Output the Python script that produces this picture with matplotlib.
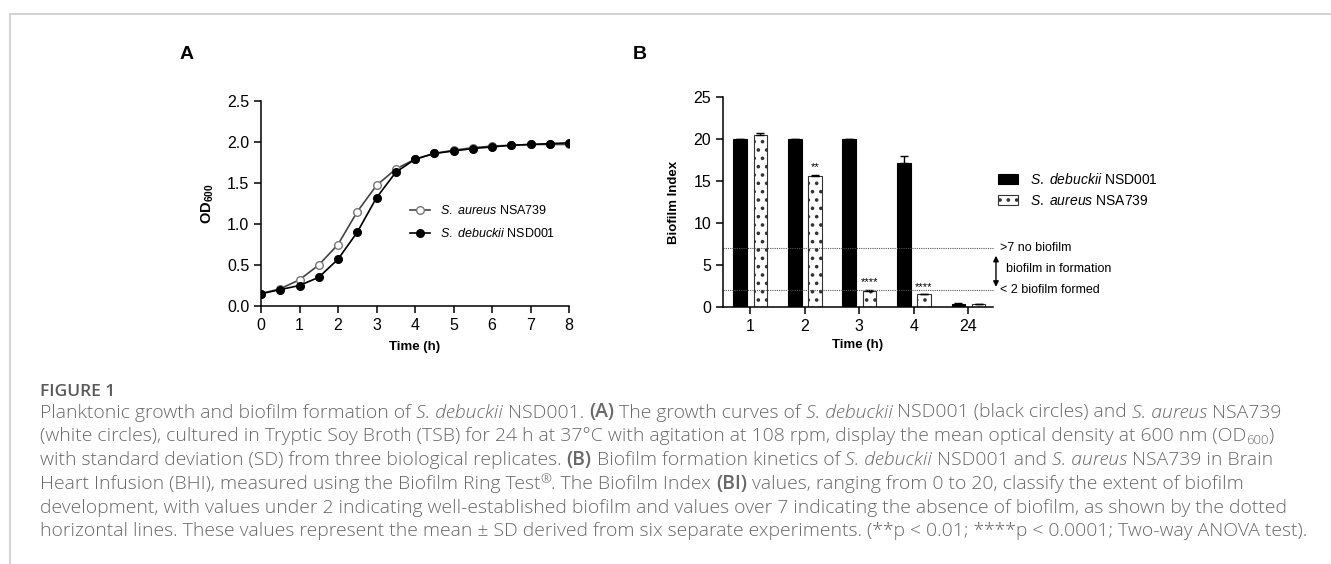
import matplotlib
matplotlib.use('Agg')
import numpy as np
import matplotlib.pyplot as plt
from matplotlib.lines import Line2D

# ---- data -----------------------------------------------------------------
time_h = [0, 0.5, 1, 1.5, 2, 2.5, 3, 3.5, 4, 4.5, 5, 5.5, 6, 6.5, 7, 7.5, 8]
od_aureus = [0.15, 0.21, 0.32, 0.50, 0.75, 1.15, 1.47, 1.67, 1.79, 1.86,
             1.90, 1.93, 1.95, 1.96, 1.97, 1.97, 1.97]
od_debuckii = [0.15, 0.20, 0.25, 0.35, 0.57, 0.90, 1.32, 1.63, 1.79, 1.86,
               1.89, 1.92, 1.94, 1.96, 1.97, 1.98, 1.99]

bi_times = ['1', '2', '3', '4', '24']
bi_debuckii = [20.0, 20.0, 20.0, 17.2, 0.3]
bi_debuckii_sd = [0.05, 0.05, 0.05, 0.75, 0.12]
bi_aureus = [20.5, 15.6, 1.9, 1.5, 0.3]
bi_aureus_sd = [0.25, 0.15, 0.15, 0.0, 0.1]
stars = ['', '**', '****', '****', '']
no_biofilm = 7
biofilm_formed = 2

W, H = 1331, 564
fx = lambda x: x / W
fy = lambda y: 1 - y / H

plt.rcParams['font.family'] = ['Liberation Sans', 'DejaVu Sans']
plt.rcParams['mathtext.fontset'] = 'custom'
plt.rcParams['mathtext.rm'] = 'Liberation Sans'
plt.rcParams['mathtext.it'] = 'Liberation Sans:italic'
plt.rcParams['mathtext.bf'] = 'Liberation Sans:bold'
plt.rcParams['hatch.linewidth'] = 1.4

fig = plt.figure(figsize=(W / 100, H / 100), dpi=100)

# frame lines of the page
fig.add_artist(Line2D([fx(10), 1], [fy(14), fy(14)], color='#d4d4d4', lw=1.5))
fig.add_artist(Line2D([fx(10), fx(10)], [fy(14), 0], color='#d4d4d4', lw=1.5))

# ---- panel A ---------------------------------------------------------------
axA = fig.add_axes([fx(261), fy(306), fx(569) - fx(261), fy(101) - fy(306)])
axA.plot(time_h, od_aureus, '-o', color='#444444', lw=1.2, ms=5.5,
         mfc='white', mec='#777777', mew=1.0,
         label=r'$\it{S.\ aureus}$ NSA739')
axA.plot(time_h, od_debuckii, '-o', color='black', lw=1.2, ms=5.5,
         mfc='black', mec='black', label=r'$\it{S.\ debuckii}$ NSD001')
axA.set_xlim(0, 8)
axA.set_ylim(0, 2.5)
axA.set_xticks(range(0, 9))
axA.set_yticks(np.arange(0, 2.51, 0.5))
axA.yaxis.set_major_formatter(matplotlib.ticker.FormatStrFormatter('%.1f'))
axA.set_xlabel('Time (h)', fontsize=9.5, fontweight='bold', labelpad=6)
axA.set_ylabel(r'$\mathbf{OD_{600}}$', fontsize=10.5, labelpad=8)
axA.legend(loc='upper left', bbox_to_anchor=(fx(410), fy(204)),
           bbox_transform=fig.transFigure, frameon=False, fontsize=9,
           handlelength=1.6, handletextpad=0.8, labelspacing=0.8,
           borderpad=0, borderaxespad=0, numpoints=1)

# ---- panel B ---------------------------------------------------------------
axB = fig.add_axes([fx(723), fy(307), fx(993) - fx(723), fy(97) - fy(307)])
x = np.arange(len(bi_times))
off, bw = 0.185, 0.25
axB.bar(x - off, bi_debuckii, bw, color='black', edgecolor='black', lw=0.8,
        label=r'$\it{S.\ debuckii}$ NSD001')
axB.bar(x + off, bi_aureus, bw, color='white', edgecolor='#333333', lw=0.8,
        hatch='..', label=r'$\it{S.\ aureus}$ NSA739')
axB.errorbar(x - off, bi_debuckii, yerr=[np.zeros(len(x)), bi_debuckii_sd],
             fmt='none', ecolor='black', elinewidth=1, capsize=3)
axB.errorbar(x + off, bi_aureus, yerr=[np.zeros(len(x)), bi_aureus_sd],
             fmt='none', ecolor='black', elinewidth=1, capsize=3)
for i, s in enumerate(stars):
    if s:
        axB.text(x[i] + off, bi_aureus[i] + bi_aureus_sd[i] + 0.3, s,
                 ha='center', va='bottom', fontsize=8)
axB.axhline(no_biofilm, color='#555555', lw=0.8, ls=(0, (1, 1)), clip_on=False)
axB.axhline(biofilm_formed, color='#555555', lw=0.8, ls=(0, (1, 1)),
            clip_on=False)
axB.set_xlim(-0.5, 4.45)
axB.set_ylim(0, 25)
axB.set_xticks(x)
axB.set_xticklabels(bi_times)
axB.set_yticks(range(0, 26, 5))
axB.set_xlabel('Time (h)', fontsize=9.5, fontweight='bold', labelpad=4)
axB.set_ylabel('Biofilm Index', fontsize=9.5, fontweight='bold', labelpad=10)

axB.text(1.026, no_biofilm, '>7 no biofilm', transform=axB.get_yaxis_transform(),
         fontsize=9, va='center', ha='left')
axB.text(1.048, 4.5, 'biofilm in formation', transform=axB.get_yaxis_transform(),
         fontsize=9, va='center', ha='left')
axB.text(1.026, biofilm_formed, '< 2 biofilm formed',
         transform=axB.get_yaxis_transform(), fontsize=9, va='center', ha='left')
axB.annotate('', xy=(1.011, 6.1), xytext=(1.011, 2.4),
             xycoords=axB.get_yaxis_transform(),
             textcoords=axB.get_yaxis_transform(),
             arrowprops=dict(arrowstyle='<|-|>', color='black', lw=1,
                             mutation_scale=8, shrinkA=0, shrinkB=0))
axB.legend(loc='upper left', bbox_to_anchor=(fx(998), fy(172)),
           bbox_transform=fig.transFigure, frameon=False, fontsize=10,
           handlelength=1.45, handleheight=0.8, handletextpad=0.85,
           labelspacing=0.5, borderpad=0, borderaxespad=0)

for ax in (axA, axB):
    for side in ('top', 'right'):
        ax.spines[side].set_visible(False)
    for side in ('left', 'bottom'):
        ax.spines[side].set_linewidth(1.1)
    ax.tick_params(direction='out', length=5, width=1.1, labelsize=11.5)

fig.text(fx(187), fy(55), 'A', fontsize=14, fontweight='bold', ha='center',
         va='center')
fig.text(fx(640), fy(55), 'B', fontsize=14, fontweight='bold', ha='center',
         va='center')

# ---- caption ---------------------------------------------------------------
cap_font = ['Open Sans', 'DejaVu Sans']
cap_color = '#686868'
renderer = fig.canvas.get_renderer()


def style_kw(kind, size):
    kw = dict(family=cap_font, fontsize=size, color=cap_color, weight='light')
    if kind == 'i':
        kw['style'] = 'italic'
    elif kind == 'b':
        kw['weight'] = 'semibold'
    elif kind in ('sub', 'sup'):
        kw['fontsize'] = size * 0.68
    return kw


def measure(s, kw):
    t1 = fig.text(0, 0, '|' + s + '|', **kw)
    t2 = fig.text(0, 0, '||', **kw)
    w = t1.get_window_extent(renderer).width - t2.get_window_extent(renderer).width
    t1.remove()
    t2.remove()
    return w


def line_width(parts, size):
    return sum(measure(s, style_kw(k, size)) for s, k in parts)


def draw_line(x0, y0, parts, size):
    xp = x0
    for s, k in parts:
        kw = style_kw(k, size)
        lead = s[:len(s) - len(s.lstrip())]
        dx = measure(lead, kw) if lead else 0
        dy = 0
        if k == 'sub':
            dy = 3
        elif k == 'sup':
            dy = -6
        fig.text(fx(xp + dx), fy(y0 + dy), s.strip(), va='baseline',
                 ha='left', **kw)
        xp += measure(s, kw)


caption = [
    [('Planktonic growth and biofilm formation of ', 'r'), ('S. debuckii', 'i'),
     (' NSD001. ', 'r'), ('(A)', 'b'), (' The growth curves of ', 'r'),
     ('S. debuckii', 'i'), (' NSD001 (black circles) and ', 'r'),
     ('S. aureus', 'i'), (' NSA739', 'r')],
    [('(white circles), cultured in Tryptic Soy Broth (TSB) for 24 h at 37°C '
      'with agitation at 108 rpm, display the mean optical density at 600 nm (OD',
      'r'), ('600', 'sub'), (')', 'r')],
    [('with standard deviation (SD) from three biological replicates. ', 'r'),
     ('(B)', 'b'), (' Biofilm formation kinetics of ', 'r'), ('S. debuckii', 'i'),
     (' NSD001 and ', 'r'), ('S. aureus', 'i'), (' NSA739 in Brain', 'r')],
    [('Heart Infusion (BHI), measured using the Biofilm Ring Test', 'r'),
     ('®', 'sup'), ('. The Biofilm Index ', 'r'), ('(BI)', 'b'),
     (' values, ranging from 0 to 20, classify the extent of biofilm', 'r')],
    [('development, with values under 2 indicating well-established biofilm '
      'and values over 7 indicating the absence of biofilm, as shown by the dotted',
      'r')],
    [('horizontal lines. These values represent the mean ± SD derived from six '
      'separate experiments. (**p < 0.01; ****p < 0.0001; Two-way ANOVA test).',
      'r')],
]

cap_size = 10 * 1238 / line_width(caption[0], 10)
fig.text(fx(40), fy(395.5), 'FIGURE 1', family=cap_font, fontsize=cap_size * 0.9,
         weight='semibold', color='#595959', va='baseline')
for j, parts in enumerate(caption):
    draw_line(40, 417.5 + 23.8 * j, parts, cap_size)

fig.savefig('out.png', dpi=100)
